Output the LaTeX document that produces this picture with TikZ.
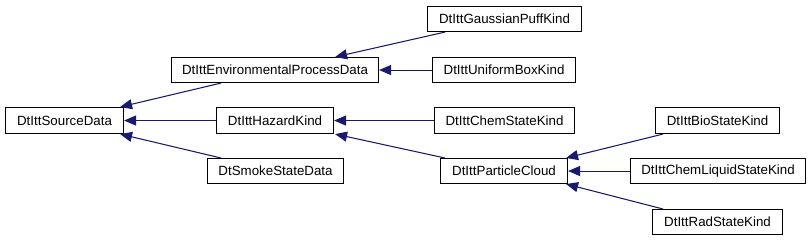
\documentclass[tikz,border=0pt]{standalone}
\usepackage{fontspec}
\setmainfont{Liberation Sans}
\usetikzlibrary{arrows.meta,calc}
\definecolor{edgeblue}{RGB}{25,25,112}
\begin{document}
\begin{tikzpicture}[x=0.75pt,y=-0.75pt,
  cls/.style={draw=black,line width=0.8pt,fill=white,anchor=north west,inner sep=0pt,
    font=\fontsize{10pt}{12pt}\selectfont,align=center},
  inh/.style={draw=edgeblue,line width=0.8pt,-{Triangle[length=9pt,width=7.5pt]}}]
\useasboundingbox (0,0) rectangle (811,240);
\node[cls,minimum width=118*0.75pt,minimum height=26*0.75pt] (src) at (5,107) {DtIttSourceData};
\node[cls,minimum width=207*0.75pt,minimum height=25*0.75pt] (env) at (171,57) {DtIttEnvironmentalProcessData};
\node[cls,minimum width=117*0.75pt,minimum height=26*0.75pt] (haz) at (216,107) {DtIttHazardKind};
\node[cls,minimum width=136*0.75pt,minimum height=25*0.75pt] (smoke) at (207,158) {DtSmokeStateData};
\node[cls,minimum width=154*0.75pt,minimum height=25*0.75pt] (gauss) at (427,6) {DtIttGaussianPuffKind};
\node[cls,minimum width=143*0.75pt,minimum height=25*0.75pt] (unif) at (432,57) {DtIttUniformBoxKind};
\node[cls,minimum width=140*0.75pt,minimum height=26*0.75pt] (chem) at (434,107) {DtIttChemStateKind};
\node[cls,minimum width=127*0.75pt,minimum height=25*0.75pt] (part) at (440,158) {DtIttParticleCloud};
\node[cls,minimum width=124*0.75pt,minimum height=26*0.75pt] (bio) at (655,107) {DtIttBioStateKind};
\node[cls,minimum width=175*0.75pt,minimum height=25*0.75pt] (liq) at (630,158) {DtIttChemLiquidStateKind};
\node[cls,minimum width=130*0.75pt,minimum height=25*0.75pt] (rad) at (652,209) {DtIttRadStateKind};
% edges
\draw[inh] ($(env.south west)+(50,0)$) -- ($(src.north east)+(-4,0)$);
\draw[inh] (haz.west) -- (src.east);
\draw[inh] ($(smoke.north west)+(14,0)$) -- ($(src.south east)+(-4,0)$);
\draw[inh] ($(gauss.south west)+(18,0)$) -- ($(env.north east)+(-44,0)$);
\draw[inh] (unif.west) -- (env.east);
\draw[inh] (chem.west) -- (haz.east);
\draw[inh] ($(part.north west)+(5,0)$) -- ($(haz.south east)+(1,0)$);
\draw[inh] ($(bio.south west)+(8,0)$) -- ($(part.north east)+(-2,0)$);
\draw[inh] (liq.west) -- (part.east);
\draw[inh] ($(rad.north west)+(11,0)$) -- ($(part.south east)+(-2,0)$);
\end{tikzpicture}
\end{document}
